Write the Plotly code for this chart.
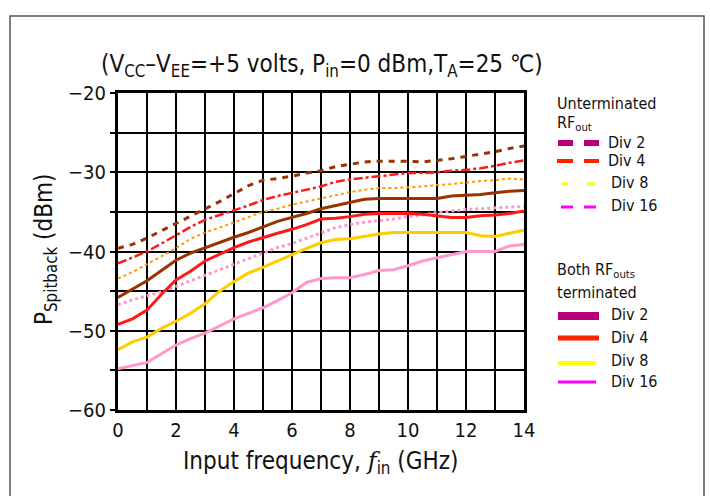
import plotly.graph_objects as go

freq = [0, 0.5, 1, 1.5, 2, 2.5, 3, 3.5, 4, 4.5, 5, 5.5, 6, 6.5, 7, 7.5, 8, 8.5, 9, 9.5,
        10, 10.5, 11, 11.5, 12, 12.5, 13, 13.5, 14]

unterm_div2 = [-39.6, -39.1, -38.3, -37.4, -36.4, -35.5, -34.7, -33.7, -32.7, -31.7, -31.0, -30.8, -30.5, -30.1,
               -29.8, -29.3, -29.0, -28.7, -28.6, -28.6, -28.6, -28.7, -28.5, -28.3, -28.0, -27.7, -27.4, -27.0, -26.7]
unterm_div4 = [-41.5, -40.8, -40.0, -39.0, -37.9, -36.9, -36.0, -35.4, -34.8, -34.2, -33.5, -33.0, -32.6, -32.2,
               -31.8, -31.2, -30.9, -30.7, -30.5, -30.3, -30.1, -30.1, -30.0, -29.8, -29.7, -29.5, -29.2, -28.8, -28.5]
unterm_div8 = [-43.4, -42.6, -41.6, -40.6, -39.6, -38.4, -37.6, -37.0, -36.3, -35.6, -35.0, -34.6, -34.1, -33.7,
               -33.3, -32.9, -32.5, -32.2, -32.0, -32.0, -31.9, -31.8, -31.6, -31.5, -31.3, -31.1, -31.0, -30.8, -30.9]
unterm_div16 = [-46.7, -46.1, -45.6, -45.1, -44.4, -43.7, -43.0, -42.3, -41.6, -40.8, -40.1, -39.5, -39.0, -38.3,
                -37.6, -37.0, -36.6, -36.3, -36.1, -35.9, -35.6, -35.4, -35.1, -34.9, -34.7, -34.6, -34.5, -34.4, -34.3]
term_div2 = [-45.8, -44.7, -43.7, -42.4, -41.1, -40.2, -39.5, -38.8, -38.2, -37.6, -36.9, -36.2, -35.7, -35.2,
             -34.6, -34.2, -33.8, -33.4, -33.3, -33.3, -33.3, -33.3, -33.3, -33.0, -32.9, -32.8, -32.6, -32.4, -32.3]
term_div4 = [-49.2, -48.5, -47.4, -45.4, -43.6, -42.5, -41.2, -40.3, -39.5, -38.8, -38.2, -37.7, -37.2, -36.6,
             -35.9, -35.8, -35.6, -35.3, -35.2, -35.2, -35.2, -35.3, -35.5, -35.7, -35.7, -35.5, -35.4, -35.2, -34.9]
term_div8 = [-52.4, -51.4, -50.8, -49.7, -48.8, -47.8, -46.6, -45.0, -43.8, -42.7, -42.0, -41.2, -40.3, -39.6,
             -38.9, -38.5, -38.4, -38.1, -37.8, -37.6, -37.6, -37.6, -37.6, -37.6, -37.6, -38.0, -38.1, -37.7, -37.3]
term_div16 = [-54.8, -54.4, -54.0, -52.9, -51.8, -51.0, -50.3, -49.4, -48.5, -47.8, -47.1, -46.2, -45.2, -43.9,
              -43.4, -43.3, -43.3, -42.9, -42.4, -42.3, -41.8, -41.2, -40.8, -40.4, -40.0, -40.0, -40.0, -39.3, -39.1]

x_ticks = [0, 2, 4, 6, 8, 10, 12, 14]
y_ticks = [-60, -50, -40, -30, -20]
div_labels = ["Div 2", "Div 4", "Div 8", "Div 16"]

FONT = "DejaVu Sans Condensed, Liberation Sans Narrow, Roboto, sans-serif"

# plot area pixel geometry
L, R, T, B = 118, 524, 93, 410
W, H = 710, 496


def px(xp):
    return (xp - L) / (R - L)


def py(yp):
    return (B - yp) / (B - T)


series = [
    (unterm_div2, "#993300", 3, "6px,6px"),
    (unterm_div4, "#ff1a1a", 2.5, "dashdot"),
    (unterm_div8, "#ff9900", 2, "dot"),
    (unterm_div16, "#ff99cc", 3, "dot"),
    (term_div2, "#993300", 3, "solid"),
    (term_div4, "#ff1a1a", 3, "solid"),
    (term_div8, "#ffcc00", 3, "solid"),
    (term_div16, "#ff99cc", 3, "solid"),
]

fig = go.Figure()
for vals, col, wid, dash in series:
    fig.add_trace(go.Scatter(x=freq, y=vals, mode="lines",
                             line=dict(color=col, width=wid, dash=dash),
                             showlegend=False, hoverinfo="skip"))

shapes = []
annotations = []

# outer frame
shapes.append(dict(type="rect", xref="paper", yref="paper",
                   x0=px(10), x1=px(704), y0=py(520), y1=py(16),
                   line=dict(color="#555555", width=1.5), layer="below"))

# title
annotations.append(dict(
    text="(V<sub>CC</sub>\u2013V<sub>EE</sub>=+5 volts, P<sub>in</sub>=0 dBm,T<sub>A</sub>=25 \u2103)",
    xref="paper", yref="paper", x=px(322), y=py(65), showarrow=False,
    font=dict(family=FONT, size=24, color="#111111"), xanchor="center", yanchor="middle"))

# axis titles
annotations.append(dict(
    text="P<sub>Spitback</sub> (dBm)", xref="paper", yref="paper",
    x=px(45), y=py(250), showarrow=False, textangle=-90,
    font=dict(family=FONT, size=24, color="#111111"), xanchor="center", yanchor="middle"))
annotations.append(dict(
    text="Input frequency, <span style=\"font-family:'DejaVu Serif', serif\"><i>f</i></span><sub>in</sub> (GHz)",
    xref="paper", yref="paper",
    x=px(320), y=py(462), showarrow=False,
    font=dict(family=FONT, size=24, color="#111111"), xanchor="center", yanchor="middle"))

# legend group headings
lfont = dict(family=FONT, size=16, color="#111111")
for txt, yy in [("Unterminated", 103), ("RF<sub>out</sub>", 124),
                ("Both RF<sub>outs</sub>", 270), ("terminated", 292)]:
    annotations.append(dict(text=txt, xref="paper", yref="paper", x=px(555), y=py(yy),
                            showarrow=False, font=lfont, xanchor="left", yanchor="middle"))

leg_colors = ["#b5007a", "#ff2200", "#ffff00", "#ff00ff"]

# unterminated legend entries (two dashes each)
unterm_rows = [143, 161, 184, 207]
unterm_text_y = [142, 160, 182, 205]
unterm_dash = [((558, 573), (584, 599)), ((557, 573), (584, 599)),
               ((561, 568), (587, 595)), ((561, 573), (584, 596))]
unterm_w = [6, 4, 3, 3]
for i in range(4):
    for (a, b) in unterm_dash[i]:
        shapes.append(dict(type="line", xref="paper", yref="paper",
                           x0=px(a), x1=px(b), y0=py(unterm_rows[i]), y1=py(unterm_rows[i]),
                           line=dict(color=leg_colors[i], width=unterm_w[i])))
    annotations.append(dict(text=div_labels[i], xref="paper", yref="paper",
                            x=px(606 if i < 2 else 609), y=py(unterm_text_y[i]),
                            showarrow=False, font=lfont, xanchor="left", yanchor="middle"))

# terminated legend entries (solid)
term_rows = [316, 338, 363, 382]
term_text_y = [314, 337, 360, 381]
term_w = [8, 5, 4, 3]
term_x1 = [599, 599, 596, 596]
for i in range(4):
    shapes.append(dict(type="line", xref="paper", yref="paper",
                       x0=px(558), x1=px(term_x1[i]), y0=py(term_rows[i]), y1=py(term_rows[i]),
                       line=dict(color=leg_colors[i], width=term_w[i])))
    annotations.append(dict(text=div_labels[i], xref="paper", yref="paper",
                            x=px(609), y=py(term_text_y[i]),
                            showarrow=False, font=lfont, xanchor="left", yanchor="middle"))

fig.update_layout(
    width=W, height=H,
    margin=dict(l=L, r=W - R, t=T, b=H - B),
    paper_bgcolor="white", plot_bgcolor="white",
    shapes=shapes, annotations=annotations,
    showlegend=False,
    xaxis=dict(range=[0, 14], tickvals=x_ticks, ticktext=[str(v) for v in x_ticks],
               showgrid=True, gridcolor="black", gridwidth=2,
               minor=dict(dtick=1, showgrid=True, gridcolor="black", gridwidth=2),
               showline=True, linecolor="black", linewidth=3, mirror=True,
               ticks="", zeroline=False,
               tickfont=dict(family=FONT, size=20, color="#111111")),
    yaxis=dict(range=[-60, -20], tickvals=y_ticks, ticktext=["\u221260", "\u221250", "\u221240", "\u221230", "\u221220"],
               showgrid=True, gridcolor="black", gridwidth=2,
               minor=dict(dtick=5, showgrid=True, gridcolor="black", gridwidth=2,
                          ticks="outside", ticklen=5, tickwidth=2, tickcolor="black"),
               showline=True, linecolor="black", linewidth=3, mirror=True,
               ticks="outside", ticklen=5, tickwidth=2, tickcolor="black", zeroline=False,
               tickfont=dict(family=FONT, size=20, color="#111111")),
)

fig.write_html("out.html")
